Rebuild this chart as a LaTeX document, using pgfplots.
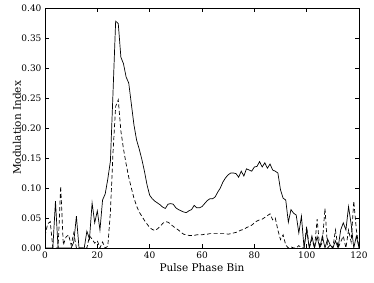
\documentclass[border=0pt]{standalone}
\usepackage{fontspec}
\setmainfont{DejaVu Serif}
\usepackage{pgfplots}
\pgfplotsset{compat=1.18}
\begin{document}
\begin{tikzpicture}
\begin{axis}[
  scale only axis,
  width=314pt, height=240pt,
  xmin=0, xmax=120, ymin=0, ymax=0.40,
  xtick={0,20,40,60,80,100,120},
  ytick={0,0.05,0.10,0.15,0.20,0.25,0.30,0.35,0.40},
  yticklabel style={/pgf/number format/.cd,fixed,fixed zerofill,precision=2},
  /pgf/number format/assume math mode=true,
  tick align=inside,
  tick pos=both,
  major tick length=4pt,
  tick label style={font=\fontsize{9}{10}\selectfont},
  label style={font=\fontsize{10.5}{12}\selectfont},
  xlabel={Pulse Phase Bin},
  ylabel={Modulation Index},
  xlabel style={at={(axis description cs:0.5,0)}, anchor=center, yshift=-20pt},
  ylabel style={at={(axis description cs:0,0.5)}, anchor=center, yshift=28pt},
  axis line style={line width=0.6pt},
  every tick/.style={black, line width=0.5pt},
]
\addplot[black, line width=0.7pt] coordinates {
(0,0)(1,0)(2,0)(3,0)(4,0.078)(5,0)(6,0)(7,0)(8,0)(9,0)(10,0)(11,0.01)(12,0.053)(13,0)(14,0)(15,0)
(16,0.028)(17,0.015)(18,0.075)(19,0.042)(20,0.062)(21,0.03)(22,0.08)(23,0.09)(24,0.115)(25,0.145)
(26,0.26)(27,0.378)(28,0.374)(29,0.318)(30,0.307)(31,0.285)(32,0.275)(33,0.24)(34,0.205)(35,0.18)
(36,0.165)(37,0.148)(38,0.128)(39,0.105)(40,0.088)(41,0.082)(42,0.078)(43,0.075)(44,0.072)(45,0.068)
(46,0.066)(47,0.073)(48,0.074)(49,0.073)(50,0.067)(51,0.064)(52,0.062)(53,0.06)(54,0.059)(55,0.062)
(56,0.064)(57,0.071)(58,0.067)(59,0.067)(60,0.069)(61,0.074)(62,0.079)(63,0.082)(64,0.082)(65,0.085)
(66,0.093)(67,0.1)(68,0.11)(69,0.117)(70,0.122)(71,0.125)(72,0.125)(73,0.124)(74,0.118)(75,0.128)
(76,0.12)(77,0.132)(78,0.13)(79,0.128)(80,0.135)(81,0.136)(82,0.144)(83,0.135)(84,0.142)(85,0.133)
(86,0.14)(87,0.13)(88,0.128)(89,0.125)(90,0.097)(91,0.083)(92,0.08)(93,0.043)(94,0.064)(95,0.058)
(96,0.055)(97,0.025)(98,0.053)(99,0)(100,0.03)(101,0)(102,0.02)(103,0)(104,0.019)(105,0)
(106,0.02)(107,0)(108,0.015)(109,0.005)(110,0)(111,0.012)(112,0)(113,0.03)(114,0.042)(115,0.03)
(116,0.069)(117,0.04)(118,0)(119,0.02)(120,0)
};
\addplot[black, line width=0.7pt, dash pattern=on 4pt off 2.5pt] coordinates {
(0,0.02)(1,0.04)(2,0.044)(3,0)(4,0)(5,0)(6,0.103)(7,0.005)(8,0.018)(9,0.022)(10,0.005)(11,0.025)
(12,0)(13,0)(14,0)(15,0)(16,0)(17,0.02)(18,0.015)(19,0.008)(20,0.012)(21,0)(22,0.01)(23,0)(24,0.003)
(25,0.06)(26,0.16)(27,0.236)(28,0.247)(29,0.195)(30,0.165)(31,0.14)(32,0.118)(33,0.1)(34,0.083)
(35,0.07)(36,0.06)(37,0.053)(38,0.046)(39,0.04)(40,0.034)(41,0.031)(42,0.029)(43,0.032)(44,0.036)
(45,0.041)(46,0.044)(47,0.043)(48,0.04)(49,0.036)(50,0.033)(51,0.03)(52,0.026)(53,0.023)(54,0.022)
(55,0.021)(56,0.021)(57,0.021)(58,0.022)(59,0.022)(60,0.022)(61,0.023)(62,0.023)(63,0.024)(64,0.024)
(65,0.024)(66,0.024)(67,0.024)(68,0.024)(69,0.024)(70,0.023)(71,0.024)(72,0.025)(73,0.026)(74,0.028)
(75,0.03)(76,0.031)(77,0.034)(78,0.036)(79,0.038)(80,0.042)(81,0.045)(82,0.047)(83,0.048)(84,0.051)
(85,0.054)(86,0.057)(87,0.047)(88,0.05)(89,0.03)(90,0.014)(91,0.022)(92,0.005)(93,0)(94,0.002)
(95,0)(96,0)(97,0.004)(98,0)(99,0)(100,0.036)(101,0)(102,0.015)(103,0)(104,0.048)(105,0)(106,0.01)
(107,0.066)(108,0)(109,0.005)(110,0)(111,0.03)(112,0)(113,0.01)(114,0.02)(115,0)(116,0.03)
(117,0.01)(118,0.078)(119,0.03)(120,0)
};
\end{axis}
\pgfresetboundingbox
\path[use as bounding box] (-45pt,-34pt) rectangle (329pt,248pt);
\end{tikzpicture}
\end{document}
